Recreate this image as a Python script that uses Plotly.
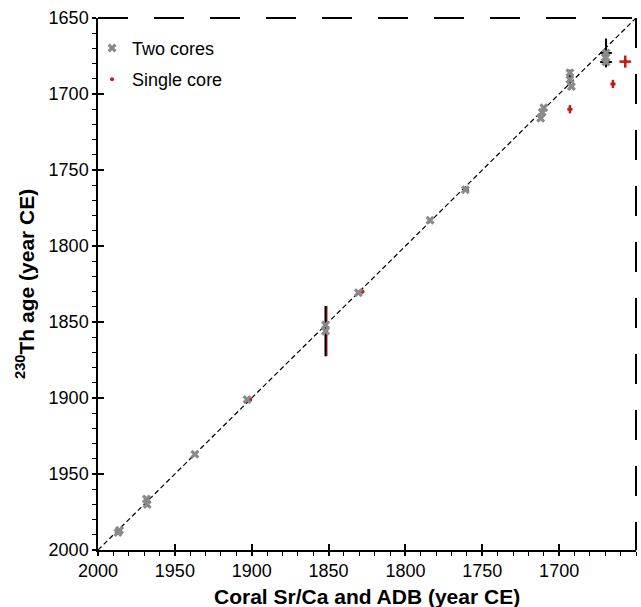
import plotly.graph_objects as go

# ---- data ----
two_x  = [1987, 1986, 1968.5, 1968, 1937, 1903, 1852, 1852, 1830.6, 1784, 1761,
          1712, 1711, 1710, 1693, 1693, 1692, 1670, 1669.5, 1669.5]
two_y  = [1988.5, 1987, 1966.5, 1970, 1937, 1901, 1852, 1856, 1830.7, 1783, 1763,
          1716, 1712, 1709, 1686, 1690.5, 1695, 1676, 1673, 1679]
two_ex = [0, 0, 0, 0, 0, 0, 0, 0, 0, 0, 0,
          0, 0, 0, 0, 0, 0, 0, 3.8, 3.8]
two_ey = [0, 0, 0, 0, 0, 0, 0, 16.5, 0, 0, 1,
          0, 0, 0, 0, 6.5, 0, 0, 9.5, 0]

one_x  = [1901, 1851.5, 1828, 1760, 1693, 1665, 1657]
one_y  = [1901, 1856, 1830, 1763, 1710, 1693.4, 1678.7]
one_ex = [1.2, 0, 1.2, 1.0, 1.7, 1.7, 3.8]
one_ey = [1.2, 16.5, 1.2, 1.0, 2.7, 2.7, 4.0]

line_x = [2000, 1650]
line_y = [2000, 1650]

x_ticks = [2000, 1950, 1900, 1850, 1800, 1750, 1700]
y_ticks = [1650, 1700, 1750, 1800, 1850, 1900, 1950, 2000]

RED = "#c41a1a"
GRAY = "#8a8a8a"
FONT = "Liberation Sans, Arial, sans-serif"

fig = go.Figure()

fig.add_trace(go.Scatter(
    x=line_x, y=line_y, mode="lines", showlegend=False, hoverinfo="skip",
    line=dict(color="black", width=1.2, dash="5px,3px")))

fig.add_trace(go.Scatter(
    x=one_x, y=one_y, mode="markers", name="Single core",
    legendgroup="b", legendrank=2,
    marker=dict(symbol="circle", size=4, color=RED),
    error_x=dict(type="data", array=one_ex, color=RED, thickness=2.5, width=0),
    error_y=dict(type="data", array=one_ey, color=RED, thickness=2.5, width=0)))

fig.add_trace(go.Scatter(
    x=two_x, y=two_y, mode="markers", name="Two cores",
    legendgroup="a", legendrank=1,
    marker=dict(symbol="x", size=8, color=GRAY, line=dict(width=0)),
    error_x=dict(type="data", array=two_ex, color="black", thickness=2, width=0),
    error_y=dict(type="data", array=two_ey, color="black", thickness=2, width=0)))

axis_common = dict(
    automargin=False,
    showgrid=False, zeroline=False, showline=True, linecolor="black", linewidth=1.5,
    ticks="outside", ticklen=4, tickwidth=1.5, tickcolor="black",
    tickfont=dict(family=FONT, size=18, color="black"),
    minor=dict(ticks="outside", ticklen=4, tickwidth=1.2, tickcolor="black", dtick=10),
)

fig.update_layout(
    width=641, height=607,
    margin=dict(l=98, r=5, t=18, b=57),
    paper_bgcolor="white", plot_bgcolor="white",
    font=dict(family=FONT, size=18, color="black"),
    xaxis=dict(range=[2000, 1650], tickmode="array", tickvals=x_ticks, **axis_common),
    yaxis=dict(range=[2000, 1650], tickmode="array", tickvals=y_ticks, **axis_common),
    xaxis2=dict(range=[2000, 1650], overlaying="x", anchor="y", side="bottom",
                automargin=False,
                tickmode="array", tickvals=x_ticks, showticklabels=False,
                ticks="inside", ticklen=6, tickwidth=1.5, tickcolor="black",
                showgrid=False, zeroline=False, showline=False),
    yaxis2=dict(range=[2000, 1650], overlaying="y", anchor="x", side="left",
                automargin=False,
                tickmode="array", tickvals=y_ticks, showticklabels=False,
                ticks="inside", ticklen=6, tickwidth=1.5, tickcolor="black",
                showgrid=False, zeroline=False, showline=False),
    legend=dict(x=-0.011, y=0.978, xanchor="left", yanchor="top",
                bgcolor="rgba(0,0,0,0)", font=dict(family=FONT, size=18),
                tracegroupgap=5, itemwidth=30),
    annotations=[
        dict(text="<b>Coral Sr/Ca and ADB (year CE)</b>", xref="paper", yref="paper",
             x=0.5, y=0, xanchor="center", yanchor="middle", yshift=-46,
             showarrow=False, font=dict(family=FONT, size=21, color="black")),
        dict(text="<b><sup>230</sup>Th age (year CE)</b>", xref="paper", yref="paper",
             x=0, y=0.5, xanchor="center", yanchor="middle", xshift=-73, textangle=-90,
             showarrow=False, font=dict(family=FONT, size=21, color="black")),
    ],
    shapes=[
        dict(type="line", xref="paper", yref="paper", x0=0, x1=1, y0=1, y1=1,
             line=dict(color="black", width=2, dash="30px,26px")),
        dict(type="line", xref="paper", yref="paper", x0=1, x1=1, y0=1, y1=0,
             line=dict(color="black", width=2, dash="30px,26px")),
    ],
)

# invisible trace so the overlay axes (inner major ticks) render
fig.add_trace(go.Scatter(x=[2000], y=[2000], xaxis="x2", yaxis="y2", mode="markers",
                         marker=dict(opacity=0), showlegend=False, hoverinfo="skip"))

# remove the default page margin so the 641x607 figure fills the window exactly
fig.write_html("out.html", config={"displayModeBar": False},
               post_script="document.body.style.margin='0px';document.body.style.overflow='hidden';")
